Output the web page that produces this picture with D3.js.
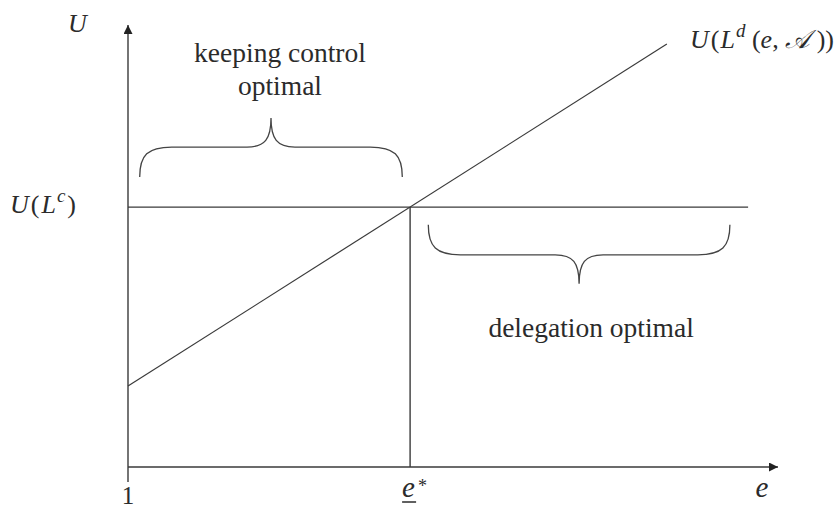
<!DOCTYPE html>
<html>
<head>
<meta charset="utf-8">
<script src="https://cdn.jsdelivr.net/npm/d3@7"></script>
<style>
	body { margin: 0; background: #fff; }
</style>
</head>
<body>
<div class="mainContainer"></div>
<script>
// values on a 0-100 scale for both axes
var xDomain = [0, 100];
var yDomain = [0, 100];
var eStar = 43.4;
var controlLevel = 58.8;            // U(L^c)
var controlEnd = 95.4;              // where the flat line stops
var delegationLine = [[0, 18.3], [82.9, 95.7]];   // U(L^d(e,A))
var braceKeep = [1.8, 42.2, 65.6];     // from, to, level (opens down)
var braceDelegate = [46.2, 92.6, 54.8]; // from, to, level (opens up)
var xTickLabels = ["1", "e", "e"];

var width = 838, height = 512;
var lineColor = "#3a3a3a";
var serif = '"Liberation Serif", "Times New Roman", serif';

var svg = d3.select('.mainContainer').append('svg').attr('width', width).attr('height', height);

var x = d3.scaleLinear().domain(xDomain).range([128, 778]);
var y = d3.scaleLinear().domain(yDomain).range([467, 25]);

var defs = svg.append('defs');
defs.append('marker').attr('id', 'arrow').attr('viewBox', '0 0 10 10').attr('refX', 10).attr('refY', 5)
	.attr('markerWidth', 9).attr('markerHeight', 9).attr('markerUnits', 'userSpaceOnUse').attr('orient', 'auto')
	.append('path').attr('d', 'M0,0 L10,5 L0,10 z').style('fill', '#222');

// axes
svg.append('line').attr('x1', x(0)).attr('y1', y(0) + 15).attr('x2', x(0)).attr('y2', y(100))
	.style('stroke', lineColor).style('stroke-width', 1.4).attr('marker-end', 'url(#arrow)');
svg.append('line').attr('x1', x(0)).attr('y1', y(0)).attr('x2', x(100)).attr('y2', y(0))
	.style('stroke', lineColor).style('stroke-width', 1.6).attr('marker-end', 'url(#arrow)');

// U(L^c) flat line
svg.append('line').attr('x1', x(0)).attr('y1', y(controlLevel)).attr('x2', x(controlEnd)).attr('y2', y(controlLevel))
	.style('stroke', lineColor).style('stroke-width', 1.4);

// e* vertical
svg.append('line').attr('x1', x(eStar)).attr('y1', y(0)).attr('x2', x(eStar)).attr('y2', y(controlLevel))
	.style('stroke', lineColor).style('stroke-width', 1.4);

// delegation line
var line = d3.line().x(function(d) { return x(d[0]); }).y(function(d) { return y(d[1]); });
svg.append('path').attr('d', line(delegationLine)).style('fill', 'none')
	.style('stroke', lineColor).style('stroke-width', 1.2);

// curly braces
function brace(b, dir) {
	var x0 = x(b[0]), x1 = x(b[1]), y0 = y(b[2]);
	var xm = (x0 + x1) / 2;
	var yf = y0 + dir * 30, yt = y0 + dir * 59;
	var r = 32, c = 24;
	return 'M' + x0 + ',' + y0 +
		' C' + x0 + ',' + (y0 + dir * 22) + ' ' + (x0 + 8) + ',' + yf + ' ' + (x0 + r) + ',' + yf +
		' L' + (xm - c) + ',' + yf +
		' C' + (xm - 6) + ',' + yf + ' ' + xm + ',' + (yf + dir * 8) + ' ' + xm + ',' + yt +
		' C' + xm + ',' + (yf + dir * 8) + ' ' + (xm + 6) + ',' + yf + ' ' + (xm + c) + ',' + yf +
		' L' + (x1 - r) + ',' + yf +
		' C' + (x1 - 8) + ',' + yf + ' ' + x1 + ',' + (y0 + dir * 22) + ' ' + x1 + ',' + y0;
}
svg.append('path').attr('d', brace(braceKeep, -1)).style('fill', 'none').style('stroke', '#444').style('stroke-width', 1.3);
svg.append('path').attr('d', brace(braceDelegate, 1)).style('fill', 'none').style('stroke', '#444').style('stroke-width', 1.3);

function label(px, py, size, italic) {
	return svg.append('text').attr('x', px).attr('y', py)
		.style('font-family', serif).style('font-size', size + 'px')
		.style('font-style', italic ? 'italic' : 'normal').style('fill', '#2b2b2b');
}

// brace texts
var kx = (x(braceKeep[0]) + x(braceKeep[1])) / 2 + 9;
label(kx, 62, 27.5, false).attr('text-anchor', 'middle').text('keeping control');
label(kx, 95, 27.5, false).attr('text-anchor', 'middle').text('optimal');
label((x(braceDelegate[0]) + x(braceDelegate[1])) / 2 + 12, 337, 27.5, false).attr('text-anchor', 'middle').text('delegation optimal');

// axis labels
label(68, 32, 26, true).text('U');

var uc = label(10, 213, 26, true);
uc.append('tspan').text('U');
uc.append('tspan').attr('dx', 2).style('font-style', 'normal').text('(');
uc.append('tspan').attr('dx', 2).text('L');
uc.append('tspan').attr('dy', -11).attr('dx', 1).style('font-size', '19px').text('c');
uc.append('tspan').attr('dy', 11).attr('dx', 2).style('font-style', 'normal').text(')');

var ud = label(690, 48, 26, true);
ud.append('tspan').text('U');
ud.append('tspan').attr('dx', 2).style('font-style', 'normal').text('(');
ud.append('tspan').attr('dx', 1).text('L');
ud.append('tspan').attr('dy', -11).attr('dx', 1).style('font-size', '19px').text('d');
ud.append('tspan').attr('dy', 11).style('font-style', 'normal').text(' (');
ud.append('tspan').text('e');
ud.append('tspan').style('font-style', 'normal').text(', ');
ud.append('tspan').text('\uD835\uDC9C');
ud.append('tspan').style('font-style', 'normal').text(' ))');

label(x(0), 504, 25, false).attr('text-anchor', 'middle').text(xTickLabels[0]);

label(x(eStar) - 8, 497, 29, true).text(xTickLabels[1]);
label(x(eStar) + 8, 492, 18, false).text('*');
svg.append('line').attr('x1', x(eStar) - 8).attr('y1', 502).attr('x2', x(eStar) + 6).attr('y2', 502)
	.style('stroke', '#2b2b2b').style('stroke-width', 1.5);

label(762, 497, 29, true).attr('text-anchor', 'middle').text(xTickLabels[2]);
</script>
</body>
</html>
